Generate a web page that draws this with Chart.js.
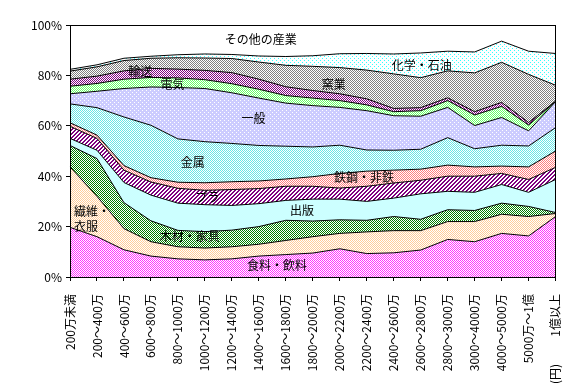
<!DOCTYPE html>
<html><head><meta charset="utf-8">
<script src="https://cdn.jsdelivr.net/npm/chart.js@4"></script>
<style>html,body{margin:0;padding:0;background:#fff}canvas{display:block}</style>
</head><body>
<canvas id="c" width="583" height="387"></canvas>
<script>
const categories = ["200万未満","200～400万","400～600万","600～800万","800～1000万","1000～1200万","1200～1400万","1400～1600万","1600～1800万","1800～2000万","2000～2200万","2200～2400万","2400～2600万","2600～2800万","2800～3000万","3000～4000万","4000～5000万","5000万～1億","1億以上"];
const food       = [19.7,16.0,10.8,8.3,7.2,6.8,7.2,8.3,8.9,9.5,11.2,9.3,9.6,10.7,14.9,14.0,17.3,16.3,24.0];
const textile    = [24.0,16.0,8.4,5.7,4.8,4.7,4.8,4.7,5.6,6.5,6.1,8.6,8.8,7.7,7.1,8.0,7.6,7.7,1.2];
const wood       = [8.5,15.0,10.3,8.3,6.5,6.5,6.6,7.0,8.0,6.2,5.4,4.6,5.6,4.5,4.7,4.4,4.4,4.0,0.4];
const publishing = [2.8,3.3,8.0,10.2,10.8,10.7,9.8,9.1,7.9,8.7,8.2,7.5,7.3,10.1,7.3,7.2,7.4,5.6,13.1];
const plastic    = [4.8,4.7,4.9,5.2,5.9,5.7,6.3,6.0,5.6,5.1,4.4,6.0,6.0,5.4,6.0,6.4,4.4,5.1,4.8];
const steel      = [1.4,1.3,1.8,1.7,2.4,3.0,3.1,3.0,2.9,3.8,5.8,6.0,5.1,4.4,4.4,3.7,2.9,5.0,6.5];
const metal      = [7.5,10.9,19.3,20.8,17.2,16.3,15.2,14.1,13.0,11.8,11.2,8.4,7.9,7.9,10.9,7.2,8.3,8.3,9.3];
const machinery  = [4.0,6.5,11.3,15.2,20.4,21.1,20.1,18.8,17.1,16.4,15.0,15.6,13.7,13.1,12.0,9.2,11.0,6.0,10.3];
const electric   = [3.0,3.1,3.7,3.8,3.8,3.5,3.6,3.5,3.0,3.0,2.7,2.3,1.6,2.2,2.7,4.2,4.4,2.3,0.1];
const transport  = [2.8,2.9,3.3,3.6,3.5,3.7,4.4,4.0,3.5,3.0,2.7,2.4,1.3,1.2,1.1,1.3,1.6,1.0,0.1];
const ceramics   = [3.2,3.7,4.1,4.0,4.5,4.9,5.6,6.8,8.5,9.6,10.4,11.4,13.7,11.9,10.7,15.4,15.9,19.1,6.3];
const chemical   = [0.7,0.8,0.9,0.8,1.2,1.6,1.6,2.4,3.5,4.2,5.5,6.6,7.9,9.8,7.8,8.3,8.4,9.2,12.6];
const other      = [17.6,15.8,13.2,12.4,11.8,11.5,11.7,12.3,12.5,12.2,11.4,11.3,11.5,11.1,10.4,10.7,6.4,10.4,11.3];
const seriesNames = ["食料・飲料","繊維・衣服","木材・家具","出版","プラ","鉄鋼・非鉄","金属","一般","電気","輸送","窯業","化学・石油","その他の産業"];
const yTicks = [0,20,40,60,80,100];
const unitLabel = "(円)";
// in-plot labels: text, category position, value position, alignment
const areaLabels = [
  {t:"その他の産業", xi:7.07, v:94.2, al:'center'},
  {t:"化学・石油", xi:13.04, v:83.9, al:'center'},
  {t:"窯業", xi:9.78, v:76.3, al:'center'},
  {t:"輸送", xi:2.6, v:81.6, al:'center'},
  {t:"電気", xi:3.8, v:76.3, al:'center'},
  {t:"一般", xi:6.8, v:63.1, al:'center'},
  {t:"金属", xi:4.55, v:45.6, al:'center'},
  {t:"鉄鋼・非鉄", xi:10.9, v:39.6, al:'center'},
  {t:"プラ", xi:5.1, v:31.7, al:'center'},
  {t:"出版", xi:8.6, v:26.5, al:'center'},
  {t:"繊維・", xi:0.15, v:26.1, al:'left'},
  {t:"衣服", xi:0.15, v:20.1, al:'left'},
  {t:"木材・家具", xi:4.44, v:16.1, al:'center'},
  {t:"食料・飲料", xi:7.67, v:4.6, al:'center'}
];

function mk(w,h,bg,fg,cells){
  const c=document.createElement('canvas'); c.width=w; c.height=h;
  const x=c.getContext('2d'); x.fillStyle=bg; x.fillRect(0,0,w,h);
  x.fillStyle=fg; cells.forEach(([a,b])=>x.fillRect(a,b,1,1));
  return document.getElementById('c').getContext('2d').createPattern(c,'repeat');
}
const checker = col => mk(2,2,'#ffffff',col,[[0,0],[1,1]]);
const eighth = col => mk(4,4,'#ffffff',col,[[0,0],[2,2]]);
const hatchCells=[]; for(let a=0;a<4;a++)for(let b=0;b<4;b++){ if((a+b)%4<2) hatchCells.push([a,b]); }
const fills = [
  checker('#ff33ff'),
  checker('#ffcc99'),
  checker('#008000'),
  '#ccffff',
  mk(4,4,'#ffffff','#800080',hatchCells),
  checker('#ff8080'),
  checker('#66e6e6'),
  mk(4,4,'#ccccff','#ffffff',[[0,0],[2,2]]),
  checker('#66ff66'),
  checker('#800080'),
  checker('#808080'),
  eighth('#33ffff'),
  '#ffffff'
];
const seriesData = [food,textile,wood,publishing,plastic,steel,metal,machinery,electric,transport,ceramics,chemical,other];

const FONT = '"Noto Sans CJK JP", "Noto Sans", sans-serif';
const overlay = {
  id:'overlay',
  afterDraw(chart){
    const {ctx, chartArea:a, scales:{x,y}} = chart;
    ctx.save();
    ctx.strokeStyle='#000'; ctx.lineWidth=1;
    ctx.strokeRect(Math.round(a.left)+0.5, Math.round(a.top)+0.5, Math.round(a.right-a.left)-1, Math.round(a.bottom-a.top));
    ctx.fillStyle='#000'; ctx.font='12px '+FONT; ctx.textBaseline='middle';
    areaLabels.forEach(l=>{ ctx.textAlign=l.al; ctx.fillText(l.t, x.getPixelForValue(l.xi), y.getPixelForValue(l.v)); });
    ctx.textAlign='center';
    ctx.translate(x.getPixelForValue(categories.length-1), a.bottom+97);
    ctx.rotate(-Math.PI/2);
    ctx.fillText(unitLabel,0,0);
    ctx.restore();
  }
};

new Chart(document.getElementById('c'), {
  type:'line',
  data:{
    labels:categories,
    datasets: seriesData.map((d,i)=>({
      label:seriesNames[i], data:d,
      fill: i===0 ? 'origin' : '-1',
      backgroundColor: fills[i],
      borderColor:'#000', borderWidth:1,
      pointRadius:0, tension:0
    }))
  },
  options:{
    responsive:false, animation:false,
    layout:{padding:{left:0,right:26,top:25,bottom:0}},
    plugins:{legend:{display:false}, tooltip:{enabled:false}, filler:{drawTime:'beforeDatasetsDraw'}},
    scales:{
      x:{
        offset:false,
        grid:{display:true, drawOnChartArea:false, drawTicks:true, tickLength:4, color:'#000'},
        border:{display:true,color:'#000'},
        ticks:{autoSkip:false, maxRotation:90, minRotation:90, padding:13, color:'#000', font:{family:FONT,size:12}},
        afterFit(s){ s.height=110; }
      },
      y:{
        stacked:true, min:0, max:100,
        afterBuildTicks(s){ s.ticks = yTicks.map(v=>({value:v})); },
        grid:{display:true, drawOnChartArea:false, drawTicks:true, tickLength:4, color:'#000'},
        border:{display:true,color:'#000'},
        ticks:{padding:4, color:'#000', font:{family:FONT,size:12}, callback:v=>v+'%'},
        afterFit(s){ s.width=70; }
      }
    }
  },
  plugins:[overlay]
});
</script>
</body></html>
